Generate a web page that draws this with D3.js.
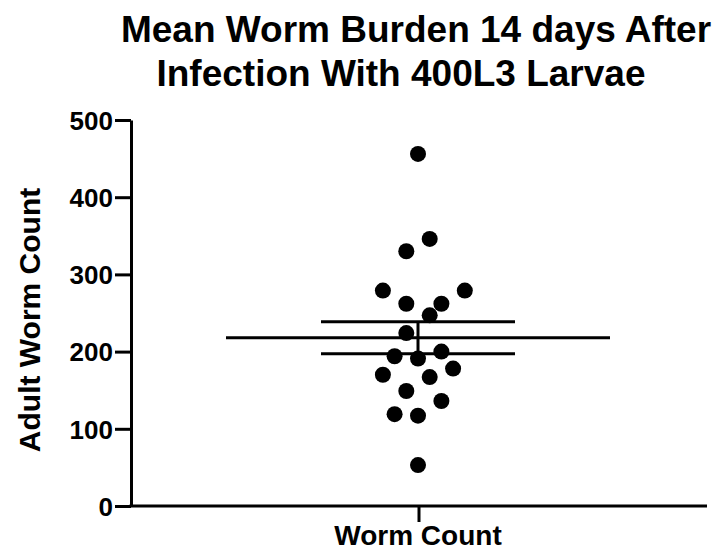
<!DOCTYPE html>
<html>
<head>
<meta charset="utf-8">
<script src="https://cdn.jsdelivr.net/npm/d3@7"></script>
<style>
  body { margin: 0; background: #fff; }
  text { font-family: "Liberation Sans", Arial, sans-serif; font-weight: bold; fill: #000; }
</style>
</head>
<body>
<div id="chart"></div>
<script>
// data
const categories = ['Worm Count'];
const wormCounts = [456, 346, 330, 279, 279, 262, 262, 247, 224, 194,
                    191, 200, 178, 170, 167, 149, 136, 119, 117, 53];
// swarm column of each dot (left/right of centre)
const jitterSlot = [0, 1, -1, -3, 4, -1, 2, 1, -1, -2,
                    0, 2, 3, -3, 1, -1, 2, -2, 0, 0];
const yTicks = [0, 100, 200, 300, 400, 500];

const width = 719, height = 552;
const margin = { top: 120, right: 12, bottom: 46, left: 131 };

const svg = d3.select('#chart')
    .append('svg')
    .attr('width', width)
    .attr('height', height);

const x = d3.scaleBand()
    .domain(categories)
    .range([margin.left, width - margin.right]);

const y = d3.scaleLinear()
    .domain([0, 500])
    .range([height - margin.bottom, margin.top]);

const slot = d3.scaleLinear()
    .domain([0, 1])
    .range([0, 11.7]);

const cx = x(categories[0]) + x.bandwidth() / 2 - 1;

// title
svg.append('text')
    .attr('x', 416).attr('y', 42)
    .attr('text-anchor', 'middle')
    .style('font-size', '37px')
    .text('Mean Worm Burden 14 days After');
svg.append('text')
    .attr('x', 401).attr('y', 86)
    .attr('text-anchor', 'middle')
    .style('font-size', '37px')
    .text('Infection With 400L3 Larvae');

// y axis
const yAxis = svg.append('g')
    .attr('transform', `translate(${margin.left},0)`)
    .call(d3.axisLeft(y).tickValues(yTicks).tickSize(16).tickSizeOuter(0).tickPadding(2));

// x axis
const xAxis = svg.append('g')
    .attr('transform', `translate(0,${height - margin.bottom})`)
    .call(d3.axisBottom(x).tickSize(16).tickSizeOuter(0).tickFormat(() => ''));

[yAxis, xAxis].forEach(g => {
    g.select('.domain').attr('stroke', '#000').attr('stroke-width', 3);
    g.selectAll('.tick line').attr('stroke', '#000').attr('stroke-width', 3);
});
yAxis.selectAll('.tick text').style('font-size', '26px').attr('dy', '0.36em');
xAxis.select('.domain').attr('d', `M${margin.left - 1.5},0H${width - margin.right}`);

svg.append('text')
    .attr('x', cx)
    .attr('y', 545)
    .attr('text-anchor', 'middle')
    .style('font-size', '28px')
    .text('Worm Count');

svg.append('text')
    .attr('transform', `translate(40,${(y(0) + y(500)) / 2 + 7}) rotate(-90)`)
    .attr('text-anchor', 'middle')
    .style('font-size', '30px')
    .text('Adult Worm Count');

// dots
svg.selectAll('.dot')
    .data(wormCounts)
    .enter().append('circle')
    .attr('class', 'dot')
    .attr('cx', (d, i) => cx + slot(jitterSlot[i]))
    .attr('cy', d => y(d))
    .attr('r', 8)
    .attr('fill', '#000');

// mean and SEM
const mean = d3.mean(wormCounts);
const sem = d3.deviation(wormCounts) / Math.sqrt(wormCounts.length);

svg.append('line')
    .attr('x1', cx - 192).attr('x2', cx + 192)
    .attr('y1', y(mean)).attr('y2', y(mean))
    .attr('stroke', '#000').attr('stroke-width', 3);

svg.append('line')
    .attr('x1', cx).attr('x2', cx)
    .attr('y1', y(mean + sem)).attr('y2', y(mean - sem))
    .attr('stroke', '#000').attr('stroke-width', 3);

[mean + sem, mean - sem].forEach(v => {
    svg.append('line')
        .attr('x1', cx - 97).attr('x2', cx + 97)
        .attr('y1', y(v)).attr('y2', y(v))
        .attr('stroke', '#000').attr('stroke-width', 3);
});
</script>
</body>
</html>
